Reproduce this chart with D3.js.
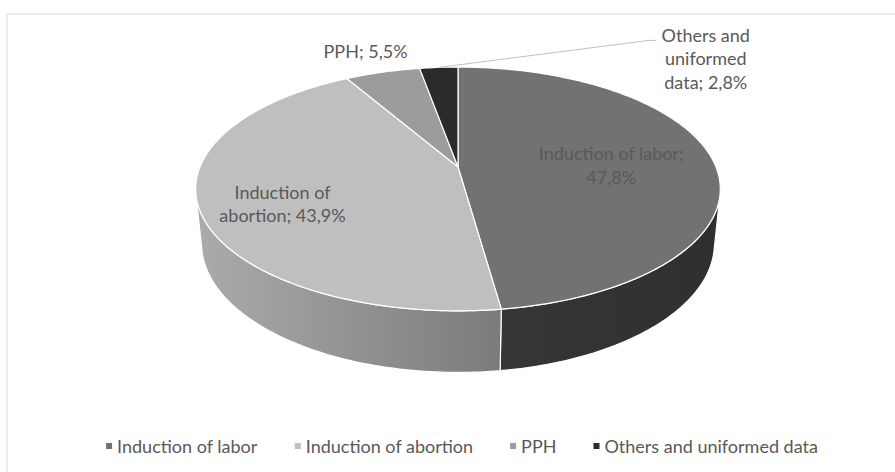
<!DOCTYPE html>
<html>
<head>
<meta charset="utf-8">
<script src="https://cdn.jsdelivr.net/npm/d3@7"></script>
<style>
  html, body { margin: 0; padding: 0; background: #fff; }
  svg { display: block; font-family: Lato, "Open Sans", sans-serif; }
</style>
</head>
<body>
<div class="pie-wrapper"></div>
<script>
// data
const categories = ['Induction of labor', 'Induction of abortion', 'PPH', 'Others and uniformed data'];
const shares = [47.8, 43.9, 5.5, 2.8];
const labelLines = [
	['Induction of labor;', '47,8%'],
	['Induction of', 'abortion; 43,9%'],
	['PPH; 5,5%'],
	['Others and', 'uniformed', 'data; 2,8%']
];

// styles
const topColors = ['#727272', '#bfbfbf', '#9c9c9c', '#2b2b2b'];
const sideColors = [['#363636', '#2f2f2f'], ['#ababab', '#7b7b7b'], ['#7a7a7a', '#6a6a6a'], ['#222222', '#1a1a1a']];
const textColor = '#595959';

const width = 895, height = 472;

// 3d pie camera (perspective, viewed from above)
const cx = 458, cy = 167, s = 258;
const tilt = Math.asin(0.457);
const dist = 0.2025;            // radius / camera distance
const thick = 0.24;             // pie height / radius
const a = Math.cos(tilt) * dist, b = Math.sin(tilt) * dist;

const proj = (theta, r, w) => {
	let U = r * Math.sin(theta), V = -r * Math.cos(theta);
	let den = 1 - a * V - b * w;
	return [cx + s * U / den, cy - s * (-V * Math.sin(tilt) + w * Math.cos(tilt)) / den];
}

// visible (front facing) part of the outer wall
const vSil = dist / Math.cos(tilt);
const wallFrom = Math.acos(-vSil), wallTo = 2 * Math.PI - Math.acos(-vSil);

const svg = d3.select('.pie-wrapper')
.append('svg')
.attr('width', width)
.attr('height', height);

const defs = svg.append('defs');

svg.append('rect')
.attr('x', 7)
.attr('y', 14)
.attr('width', width)
.attr('height', height)
.attr('fill', '#fff')
.attr('stroke', '#e6e6e6')
.attr('stroke-width', 1.5);

const pie = d3.pie().sort(null).value(d => d);
const arcs = pie(shares);

const line = d3.line();

const arcPoints = (a0, a1, r, w) => {
	let n = Math.max(2, Math.ceil((a1 - a0) / (Math.PI / 180)));
	return d3.range(n + 1).map(i => proj(a0 + (a1 - a0) * i / n, r, w));
}

const walls = svg.append('g');
const tops = svg.append('g');
const labels = svg.append('g');
const legend = svg.append('g');

arcs.forEach((d, i) => {
	let lo = Math.max(d.startAngle, wallFrom), hi = Math.min(d.endAngle, wallTo);
	if (lo >= hi) return;

	let upper = arcPoints(lo, hi, 1, 0);
	let lower = arcPoints(lo, hi, 1, -thick).reverse();
	let xs = upper.map(p => p[0]);

	let grad = defs.append('linearGradient')
	.attr('id', 'side-' + i)
	.attr('gradientUnits', 'userSpaceOnUse')
	.attr('x1', d3.min(xs)).attr('x2', d3.max(xs))
	.attr('y1', 0).attr('y2', 0);

	grad.append('stop').attr('offset', 0).attr('stop-color', sideColors[i][0]);
	grad.append('stop').attr('offset', 1).attr('stop-color', sideColors[i][1]);

	walls.append('path')
	.attr('d', line(upper.concat(lower)) + 'Z')
	.attr('fill', 'url(#side-' + i + ')')
	.attr('stroke', '#fff')
	.attr('stroke-width', 1.2)
	.attr('stroke-linejoin', 'round');
})

tops.selectAll('path')
.data(arcs)
.enter()
.append('path')
.attr('d', d => line([proj(0, 0, 0)].concat(arcPoints(d.startAngle, d.endAngle, 1, 0))) + 'Z')
.attr('fill', (d, i) => topColors[i])
.attr('stroke', '#fff')
.attr('stroke-width', 1.2)
.attr('stroke-linejoin', 'round');

// labels
const lineH = 23.5;
const fontSize = 18;

const makeLabel = (lines, x, yFirst) => {
	let label = labels.append('text')
	.attr('text-anchor', 'middle')
	.attr('fill', textColor)
	.style('font-size', fontSize + 'px');

	lines.forEach((t, k) => {
		label.append('tspan')
		.attr('x', x)
		.attr('y', yFirst + k * lineH)
		.text(t);
	})
}

const midAngle = d => (d.startAngle + d.endAngle) / 2;

// inside labels: [slice, radius, vertical nudge]
[[0, 0.6, 0], [1, 0.69, 6]].forEach(([i, r, dy]) => {
	let p = proj(midAngle(arcs[i]), r, 0);
	let n = labelLines[i].length;
	makeLabel(labelLines[i], p[0], p[1] + 10 - (n - 1) * lineH / 2 + dy);
})

// outside label, PPH
let pPPH = proj(midAngle(arcs[2]), 1, 0);
makeLabel(labelLines[2], pPPH[0] - 17, pPPH[1] - 14);

// callout label, others
let pOth = proj(midAngle(arcs[3]), 1, 0);
let elbow = [pOth[0] + 210, pOth[1] - 27];

labels.append('path')
.attr('d', line([pOth, elbow, [elbow[0] + 7, elbow[1]]]))
.attr('fill', 'none')
.attr('stroke', '#bfbfbf')
.attr('stroke-width', 1);

makeLabel(labelLines[3], elbow[0] + 57, elbow[1] + 1.5);

// legend
const markSize = 6, markGap = 11, itemGap = 37, legendY = 447;

let items = legend.selectAll('g')
.data(categories)
.enter()
.append('g');

items.append('rect')
.attr('width', markSize)
.attr('height', markSize)
.attr('y', -markSize / 2 - 1)
.attr('fill', (d, i) => topColors[i]);

items.append('text')
.attr('x', markGap)
.attr('y', 6)
.attr('fill', textColor)
.style('font-size', fontSize + 'px')
.text(d => d);

let widths = [];
items.each(function () { widths.push(this.getBBox().width); });

let total = d3.sum(widths) + itemGap * (widths.length - 1);
let xPos = 462 - total / 2;

items.attr('transform', (d, i) => {
	let t = 'translate(' + xPos + ',' + legendY + ')';
	xPos += widths[i] + itemGap;
	return t;
})
</script>
</body>
</html>
